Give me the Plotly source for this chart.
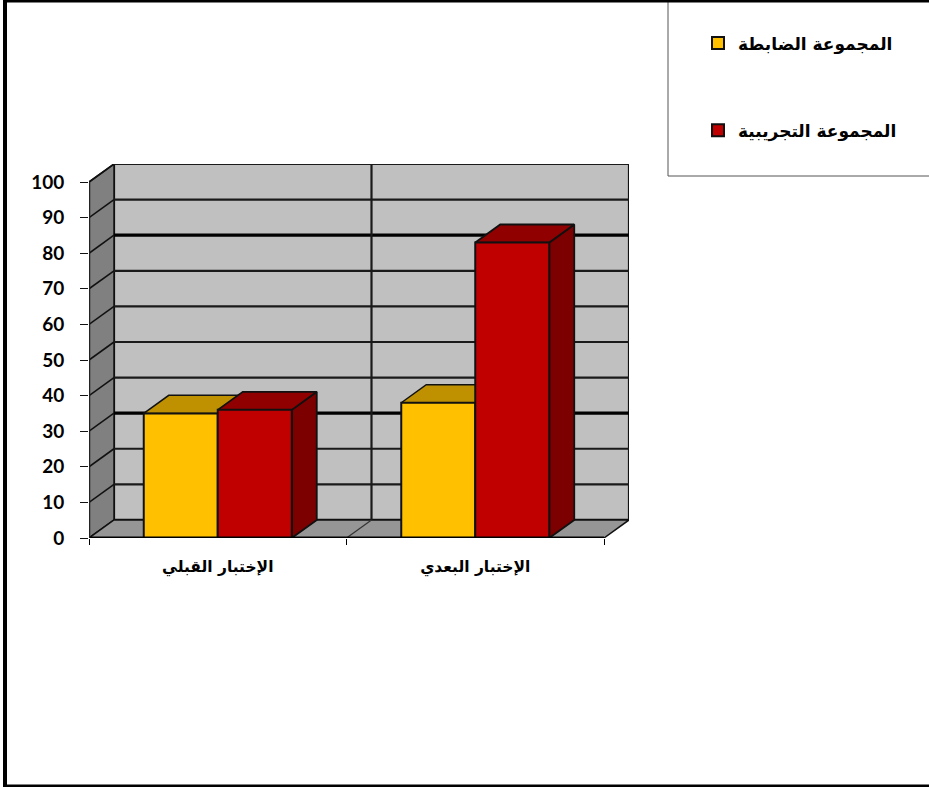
import plotly.graph_objects as go

categories = ["الإختبار القبلي", "الإختبار البعدي"]
series_names = ["المجموعة الضابطة", "المجموعة التجريبية"]
control_values = [35, 38]
experimental_values = [36, 83]
y_ticks = [0, 10, 20, 30, 40, 50, 60, 70, 80, 90, 100]
heavy_grid = [30, 80]

# plot-area geometry (pseudo-3D depth expressed in axis units)
W, H = 929, 787
L, R, T, B = 89, 629, 164, 538
PX_CAT = 257.5
PX_UNIT = 3.55
DX = 25 / PX_CAT
DY = 18 / PX_UNIT
BW = 74 / PX_CAT
X0, X1 = -0.5, 1.5
YMAX = 100
xrange_ = [X0, X1 + DX]
yrange_ = [0, YMAX + DY]
LINE = "#111111"


def poly(xs, ys, fill, axes=("x", "y"), lw=1.5):
    return go.Scatter(x=xs + xs[:1], y=ys + ys[:1], mode="lines", fill="toself", fillcolor=fill,
                      line=dict(color=LINE, width=lw), xaxis=axes[0], yaxis=axes[1],
                      showlegend=False, hoverinfo="skip", cliponaxis=False)


def segs(pairs, width, color=LINE, axes=("x", "y")):
    xs, ys = [], []
    for (a, b), (c, d) in pairs:
        xs += [a, c, None]
        ys += [b, d, None]
    return go.Scatter(x=xs, y=ys, mode="lines", line=dict(color=color, width=width),
                      xaxis=axes[0], yaxis=axes[1], showlegend=False, hoverinfo="skip", cliponaxis=False)


def px(xp):
    return (xp - L) / (R - L)


def py(yp):
    return (B - yp) / (B - T)


fig = go.Figure()

# walls and floor
fig.add_trace(poly([X0 + DX, X1 + DX, X1 + DX, X0 + DX], [DY, DY, YMAX + DY, YMAX + DY], "#c0c0c0", lw=2.2))
fig.add_trace(poly([X0, X0 + DX, X0 + DX, X0], [0, DY, YMAX + DY, YMAX], "#808080", lw=1.5))
fig.add_trace(poly([X0, X1, X1 + DX, X0 + DX], [0, 0, DY, DY], "#969696", lw=1.5))

# gridlines
light = [v for v in y_ticks if v not in heavy_grid and v > 0]
fig.add_trace(segs([((X0 + DX, v + DY), (X1 + DX, v + DY)) for v in light], 2.2, "#1a1a1a"))
fig.add_trace(segs([((X0 + DX, v + DY), (X1 + DX, v + DY)) for v in heavy_grid], 3.2, "#000000"))
fig.add_trace(segs([((X0, v), (X0 + DX, v + DY)) for v in y_ticks[1:]], 1.6, "#111111"))
fig.add_trace(segs([((0.5 + DX, DY), (0.5 + DX, YMAX + DY))], 2.2, "#1a1a1a"))
fig.add_trace(segs([((0.5, 0), (0.5 + DX, DY))], 1.2, "#333333"))

# bar side and top faces (below the bar fronts)
a2 = ("x2", "y2")
for i, v in enumerate(control_values):
    x0, x1 = i - BW, i
    fig.add_trace(poly([x0, x1, x1 + DX, x0 + DX], [v, v, v + DY, v + DY], "#bf9000", a2, 1.5))
for i, v in enumerate(experimental_values):
    x0, x1 = i, i + BW
    fig.add_trace(poly([x1, x1 + DX, x1 + DX, x1], [0, DY, v + DY, v], "#7c0000", a2, 1.8))
    fig.add_trace(poly([x0, x1, x1 + DX, x0 + DX], [v, v, v + DY, v + DY], "#900000", a2, 1.8))

# bar fronts
fig.add_trace(go.Bar(x=[0, 1], y=control_values, name=series_names[0], width=BW, offset=-BW,
                     marker=dict(color="#ffc000", line=dict(color=LINE, width=2)),
                     xaxis="x3", yaxis="y3", legendgroup="a", hoverinfo="skip"))
fig.add_trace(go.Bar(x=[0, 1], y=experimental_values, name=series_names[1], width=BW, offset=0,
                     marker=dict(color="#c00000", line=dict(color=LINE, width=2)),
                     xaxis="x3", yaxis="y3", legendgroup="b", hoverinfo="skip"))

# front axis lines
a3 = ("x3", "y3")
fig.add_trace(segs([((X0, 0), (X1, 0))], 3, "#000000", a3))
fig.add_trace(segs([((X0, 0), (X0, YMAX))], 2.5, "#222222", a3))

hidden = dict(visible=False, fixedrange=True)
fig.update_layout(
    width=W, height=H, autosize=False,
    margin=dict(l=L, r=W - R, t=T, b=H - B, pad=0),
    paper_bgcolor="#ffffff", plot_bgcolor="rgba(0,0,0,0)",
    barmode="overlay", hovermode=False,
    xaxis=dict(range=xrange_, tickmode="array", tickvals=[0, 1], ticktext=categories,
               showgrid=False, zeroline=False, showline=False, ticks="", ticklabelstandoff=17,
               tickfont=dict(family="DejaVu Sans, Liberation Sans", size=15.5, color="#000000", weight="bold"),
               minor=dict(tickmode="array", tickvals=[X0, 0.5, X1], ticks="outside", ticklen=6,
                          tickwidth=1, tickcolor="#000000", showgrid=False)),
    yaxis=dict(range=yrange_, tickmode="array", tickvals=y_ticks, ticks="outside", ticklen=8,
               tickwidth=1, tickcolor="#111111", showgrid=False, zeroline=False, showline=False,
               ticklabelstandoff=12,
               tickfont=dict(family="Lato, Open Sans", size=19, color="#000000", weight="bold")),
    xaxis2=dict(overlaying="x", range=xrange_, **hidden),
    yaxis2=dict(overlaying="y", range=yrange_, **hidden),
    xaxis3=dict(overlaying="x", range=xrange_, **hidden),
    yaxis3=dict(overlaying="y", range=yrange_, **hidden),
    legend=dict(x=px(698), y=py(25.5), xanchor="left", yanchor="top", bgcolor="rgba(0,0,0,0)",
                borderwidth=0, tracegroupgap=62, itemwidth=30,
                font=dict(family="DejaVu Sans, Liberation Sans", size=17, color="#000000", weight="bold")),
    shapes=[
        dict(type="rect", xref="paper", yref="paper", layer="below",
             x0=px(668), x1=px(935), y0=py(176), y1=py(-5),
             line=dict(color="#555555", width=1), fillcolor="#ffffff"),
        dict(type="line", xref="paper", yref="paper", x0=px(5), x1=px(5),
             y0=py(H), y1=py(0), line=dict(color="#000000", width=4)),
        dict(type="line", xref="paper", yref="paper", x0=px(5), x1=px(W),
             y0=py(1), y1=py(1), line=dict(color="#000000", width=3)),
        dict(type="line", xref="paper", yref="paper", x0=px(5), x1=px(W),
             y0=py(786), y1=py(786), line=dict(color="#000000", width=3)),
    ],
)

fig.write_html("out.html", config={"displayModeBar": False},
               post_script="document.body.style.margin='0';document.body.style.overflow='hidden';")
